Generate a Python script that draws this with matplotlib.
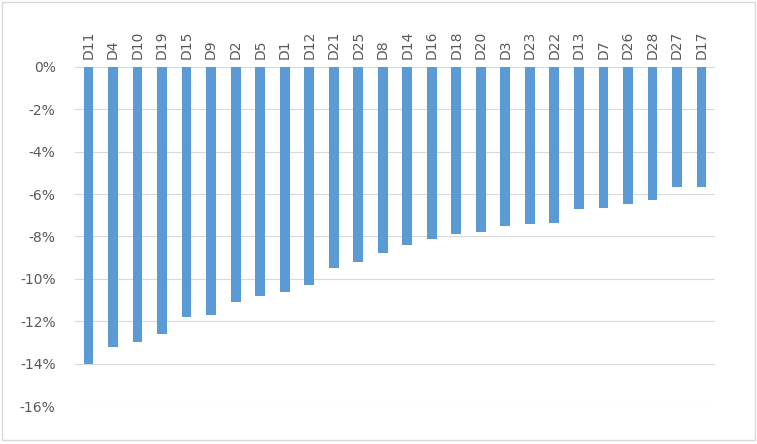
import matplotlib
matplotlib.use("Agg")
import matplotlib.pyplot as plt
import numpy as np

categories = ["D11","D4","D10","D19","D15","D9","D2","D5","D1","D12","D21","D25","D8","D14",
              "D16","D18","D20","D3","D23","D22","D13","D7","D26","D28","D27","D17"]
values = [-14.0,-13.2,-13.0,-12.6,-11.8,-11.7,-11.1,-10.8,-10.6,-10.3,-9.5,-9.2,-8.8,-8.4,
          -8.1,-7.9,-7.8,-7.5,-7.4,-7.35,-6.7,-6.65,-6.45,-6.3,-5.65,-5.65]
yticks = [0,-2,-4,-6,-8,-10,-12,-14,-16]

fig = plt.figure(figsize=(7.57,4.44), dpi=100)
ax = fig.add_axes([75/757, 1-406/444, 640/757, (406-67)/444])
x = np.arange(len(categories))
ax.bar(x, values, width=0.4, color="#5B9BD5", zorder=3)
ax.set_xlim(-0.55, len(categories)-0.45)
ax.set_ylim(-16, 0)
ax.set_yticks(yticks)
ax.set_yticklabels([f"{t}%" for t in yticks], fontsize=10, color="#595959")
ax.yaxis.grid(True, color="#D9D9D9", linewidth=0.8, zorder=0)
ax.tick_params(axis="y", length=0, pad=14)
ax.xaxis.tick_top()
ax.set_xticks(x)
ax.set_xticklabels(categories, rotation=90, fontsize=10, color="#595959")
ax.tick_params(axis="x", length=0, pad=6)
for s in ax.spines.values():
    s.set_visible(False)
ax.axhline(0, color="#D9D9D9", linewidth=0.8, zorder=1)
fig.patches.append(plt.Rectangle((0.003,0.01),0.994,0.985, transform=fig.transFigure,
                                 fill=False, edgecolor="#D9D9D9", linewidth=1))
fig.savefig("out.png", dpi=100)
